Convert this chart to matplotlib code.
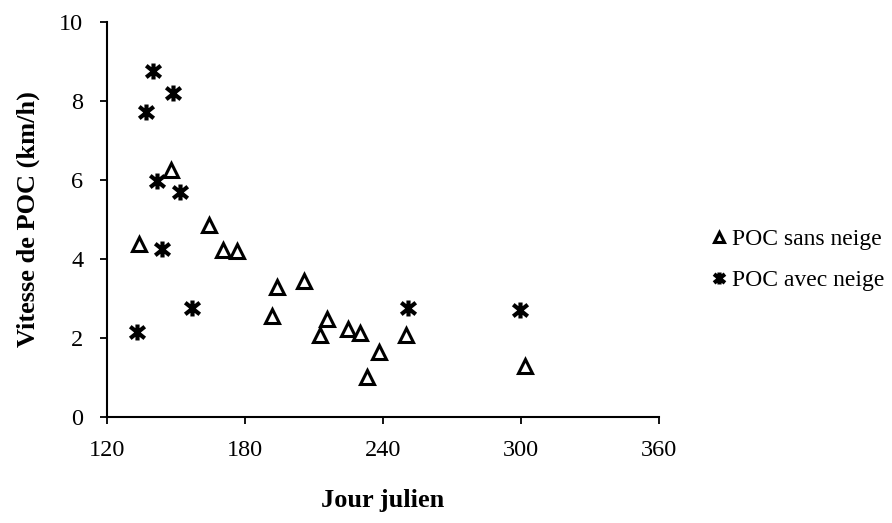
import matplotlib
matplotlib.use('Agg')
import matplotlib.pyplot as plt
from matplotlib.path import Path

# POC sans neige (triangles)
jour_sans = [133.8, 147.8, 164.5, 170.3, 176.7, 191.7, 193.8, 205.7, 212.6, 215.8,
             224.7, 230.0, 232.9, 238.0, 249.9, 301.7]
vit_sans = [4.38, 6.25, 4.86, 4.23, 4.19, 2.56, 3.30, 3.44, 2.08, 2.47,
            2.22, 2.13, 1.00, 1.63, 2.08, 1.29]

# POC avec neige (etoiles)
jour_avec = [132.9, 137.0, 139.9, 141.9, 143.8, 148.8, 151.7, 156.8, 250.7, 299.6]
vit_avec = [2.14, 7.73, 8.76, 5.96, 4.25, 8.21, 5.70, 2.75, 2.75, 2.71]

x_ticks = [120, 180, 240, 300, 360]
y_ticks = [0, 2, 4, 6, 8, 10]

plt.rcParams['font.family'] = ['Liberation Serif', 'DejaVu Serif']

# X + short vertical bar, like the Excel star marker
star = Path([(-1, -0.8), (1, 0.8), (-1, 0.8), (1, -0.8), (0, -1.1), (0, 1.1)],
            [Path.MOVETO, Path.LINETO, Path.MOVETO, Path.LINETO, Path.MOVETO, Path.LINETO])

fig = plt.figure(figsize=(8.92, 5.23), dpi=100)
ax = fig.add_axes([0.12, 0.203, 0.619, 0.755])

ax.plot(jour_sans, vit_sans, linestyle='none', marker='^', markersize=10,
        markerfacecolor='white', markeredgecolor='black', markeredgewidth=2.2,
        label='POC sans neige')
ax.plot(jour_avec, vit_avec, linestyle='none', marker=star, markersize=11.5,
        markeredgecolor='black', markeredgewidth=3, label='POC avec neige')

ax.set_xlim(120, 360)
ax.set_ylim(0, 10)
ax.set_xticks(x_ticks)
ax.set_yticks(y_ticks)
ax.tick_params(direction='out', length=5, width=1.3, labelsize=17.5, color='black')
ax.tick_params(axis='y', pad=12)
ax.tick_params(axis='x', pad=12)

for side in ['top', 'right']:
    ax.spines[side].set_visible(False)
for side in ['left', 'bottom']:
    ax.spines[side].set_linewidth(1.5)

ax.set_xlabel('Jour julien', fontsize=19, fontweight='bold', labelpad=20)
ax.set_ylabel('Vitesse de POC (km/h)', fontsize=19, fontweight='bold', labelpad=14)

ax.legend(loc='center left', bbox_to_anchor=(0.798, 0.503), bbox_transform=fig.transFigure,
          frameon=False, fontsize=17, handlelength=0.6, handletextpad=0.25,
          labelspacing=0.85, borderaxespad=0, borderpad=0, markerscale=0.75)

fig.savefig('out.png', dpi=100)
